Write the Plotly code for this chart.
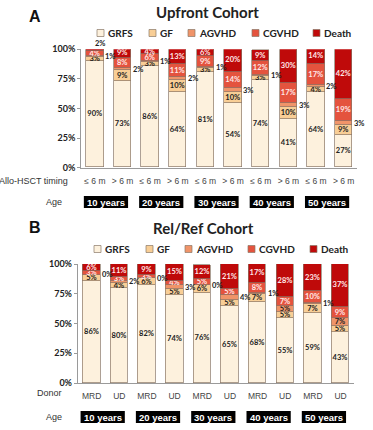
import plotly.graph_objects as go

# ---------------- data ----------------
series = ["GRFS", "GF", "AGVHD", "CGVHD", "Death"]
colors = ["#FDF1DD", "#F8CE96", "#F09469", "#E4533E", "#BF0A0A"]
text_colors = ["#222222", "#222222", "#222222", "#FFE9E9", "#FFE9E9"]

ages = ["10 years", "20 years", "30 years", "40 years", "50 years"]

upfront_timing = ["≤ 6 m", "> 6 m"] * 5
upfront_grfs = [90, 73, 86, 64, 81, 54, 74, 41, 64, 27]
upfront_gf = [3, 9, 3, 10, 3, 10, 3, 10, 4, 9]
upfront_agvhd = [1, 2, 1, 2, 1, 3, 1, 3, 2, 3]
upfront_cgvhd = [4, 8, 6, 11, 9, 14, 12, 17, 17, 19]
upfront_death = [2, 9, 4, 13, 6, 20, 9, 30, 14, 42]

relref_donor = ["MRD", "UD"] * 5
relref_grfs = [86, 80, 82, 74, 76, 65, 68, 55, 59, 43]
relref_gf = [5, 4, 6, 5, 6, 5, 7, 5, 7, 5]
relref_agvhd = [0, 2, 0, 3, 0, 4, 1, 5, 1, 7]
relref_cgvhd = [3, 3, 3, 4, 5, 5, 8, 7, 10, 9]
relref_death = [6, 11, 9, 15, 12, 21, 17, 28, 23, 37]

y_ticks = [0, 25, 50, 75, 100]
y_tick_labels = ["0%", "25%", "50%", "75%", "100%"]

# ---------------- layout helpers ----------------
W, H = 373, 430


def px(x):
    return x / W


def py(y):
    return 1 - y / H


fig = go.Figure()

panels = [
    dict(xa="x", ya="y", cats=upfront_timing,
         data=[upfront_grfs, upfront_gf, upfront_agvhd, upfront_cgvhd, upfront_death],
         agvhd_out=5, death_out=3),
    dict(xa="x2", ya="y2", cats=relref_donor,
         data=[relref_grfs, relref_gf, relref_agvhd, relref_cgvhd, relref_death],
         agvhd_out=5, death_out=3),
]

annotations = []
BAR_W = 0.63
LBL_FONT = dict(family="Lato", size=7.5, color="#222222", weight="bold")

for p in panels:
    n = len(p["cats"])
    xs = list(range(n))
    base = [0] * n
    for si, (name, vals) in enumerate(zip(series, p["data"])):
        texts = []
        for i, v in enumerate(vals):
            outside = False
            if name == "AGVHD" and v < p["agvhd_out"]:
                outside = True
                annotations.append(dict(
                    x=i + BAR_W / 2 - 0.02, y=base[i] + v / 2, xref=p["xa"], yref=p["ya"],
                    text=f"{v}%", showarrow=False, xanchor="left", yanchor="middle",
                    font=LBL_FONT))
            if name == "Death" and v < p["death_out"]:
                outside = True
                annotations.append(dict(
                    x=i + 0.2, y=100, xref=p["xa"], yref=p["ya"],
                    text=f"{v}%", showarrow=False, xanchor="center", yanchor="bottom",
                    yshift=-1, font=LBL_FONT))
            texts.append("" if outside else f"{v}%")
        fig.add_trace(go.Bar(
            x=xs, y=vals, name=name, width=BAR_W,
            marker=dict(color=colors[si], line=dict(color="#8a7868", width=0.7)),
            text=texts, textposition="inside", insidetextanchor="middle", textangle=0,
            textfont=dict(family="Lato", size=7.5, color=text_colors[si], weight="bold"),
            xaxis=p["xa"], yaxis=p["ya"], showlegend=False, hoverinfo="skip"))
        base = [b + v for b, v in zip(base, vals)]

axis_common_x = dict(range=[-0.5, 9.5], tickmode="array", tickvals=list(range(10)),
                     showline=True, linecolor="#9a9a9a", linewidth=1, showgrid=False,
                     zeroline=False, ticks="", ticklabelstandoff=5, automargin=False,
                     tickfont=dict(family="Liberation Sans", size=8.5, color="#444444"))
axis_common_y = dict(range=[0, 100], tickmode="array", tickvals=y_ticks, ticktext=y_tick_labels,
                     showline=True, linecolor="#9a9a9a", linewidth=1, showgrid=False,
                     zeroline=False, ticks="outside", ticklen=3, tickcolor="#9a9a9a",
                     automargin=False,
                     tickfont=dict(family="Lato", size=9, color="#222222", weight="bold"))

fig.update_layout(
    template="none",
    width=W, height=H, margin=dict(l=0, r=0, t=0, b=0, pad=0, autoexpand=False),
    paper_bgcolor="white", plot_bgcolor="white", barmode="stack", bargap=0,
    showlegend=False,
    uniformtext=dict(minsize=7.5, mode="show"),
    xaxis=dict(domain=[0.2174, 0.9584], anchor="y", ticktext=upfront_timing, **axis_common_x),
    yaxis=dict(domain=[1 - 167.7 / H, 1 - 49.3 / H], anchor="x", **axis_common_y),
    xaxis2=dict(domain=[0.2086, 0.950], anchor="y2", ticktext=relref_donor, **axis_common_x),
    yaxis2=dict(domain=[1 - 383 / H, 1 - 264 / H], anchor="x2", **axis_common_y),
)

shapes = []

# titles / panel letters
for letter, lx, ly, title, tx, ty in [("A", 35, 16, "Upfront Cohort", 207, 12),
                                      ("B", 35, 228, "Rel/Ref Cohort", 203, 228)]:
    annotations.append(dict(x=px(lx), y=py(ly), xref="paper", yref="paper", text=letter,
                            showarrow=False, xanchor="center", yanchor="middle",
                            font=dict(family="Liberation Sans", size=16,
                                      color="#111111", weight="bold")))
    annotations.append(dict(x=px(tx), y=py(ty), xref="paper", yref="paper", text=title,
                            showarrow=False, xanchor="center", yanchor="middle",
                            font=dict(family="Lato", size=15,
                                      color="#222222", weight="bold")))

# legends
for box_xs, ly in [([97, 149, 188, 252, 313], 33), ([94, 146, 185, 248, 310], 249)]:
    for si, name in enumerate(series):
        bx = box_xs[si]
        shapes.append(dict(type="rect", xref="paper", yref="paper",
                           x0=px(bx), x1=px(bx + 7), y0=py(ly + 3.5), y1=py(ly - 3.5),
                           fillcolor=colors[si], line=dict(color="#8a7868", width=0.7)))
        annotations.append(dict(x=px(bx + 9), y=py(ly), xref="paper", yref="paper",
                                text=name, showarrow=False, xanchor="left", yanchor="middle",
                                font=dict(family="Lato", size=10, color="#222222", weight="bold")))

# row labels
for text, rx, ry in [("Allo-HSCT timing", 70, 181), ("Age", 64, 202),
                     ("Donor", 64, 393), ("Age", 64, 417)]:
    annotations.append(dict(x=px(rx), y=py(ry), xref="paper", yref="paper", text=text,
                            showarrow=False, xanchor="right", yanchor="middle",
                            font=dict(family="Liberation Sans", size=9, color="#333333")))

# age boxes
for xa, y_top, y_bot in [("x", 196, 208), ("x2", 411, 423)]:
    for k, age in enumerate(ages):
        c = 2 * k + 0.4
        shapes.append(dict(type="rect", xref=xa, yref="paper", x0=c - 0.8, x1=c + 0.8,
                           y0=py(y_bot), y1=py(y_top), fillcolor="#000000",
                           line=dict(width=0)))
        annotations.append(dict(x=c, y=py((y_top + y_bot) / 2), xref=xa, yref="paper",
                                text=age, showarrow=False, xanchor="center", yanchor="middle",
                                font=dict(family="Liberation Sans", size=9.5, color="white",
                                          weight="bold")))

fig.update_layout(shapes=shapes, annotations=annotations)
fig.write_html("out.html", config={"displayModeBar": False},
               post_script="document.body.style.margin='0';document.body.style.overflow='hidden';")
